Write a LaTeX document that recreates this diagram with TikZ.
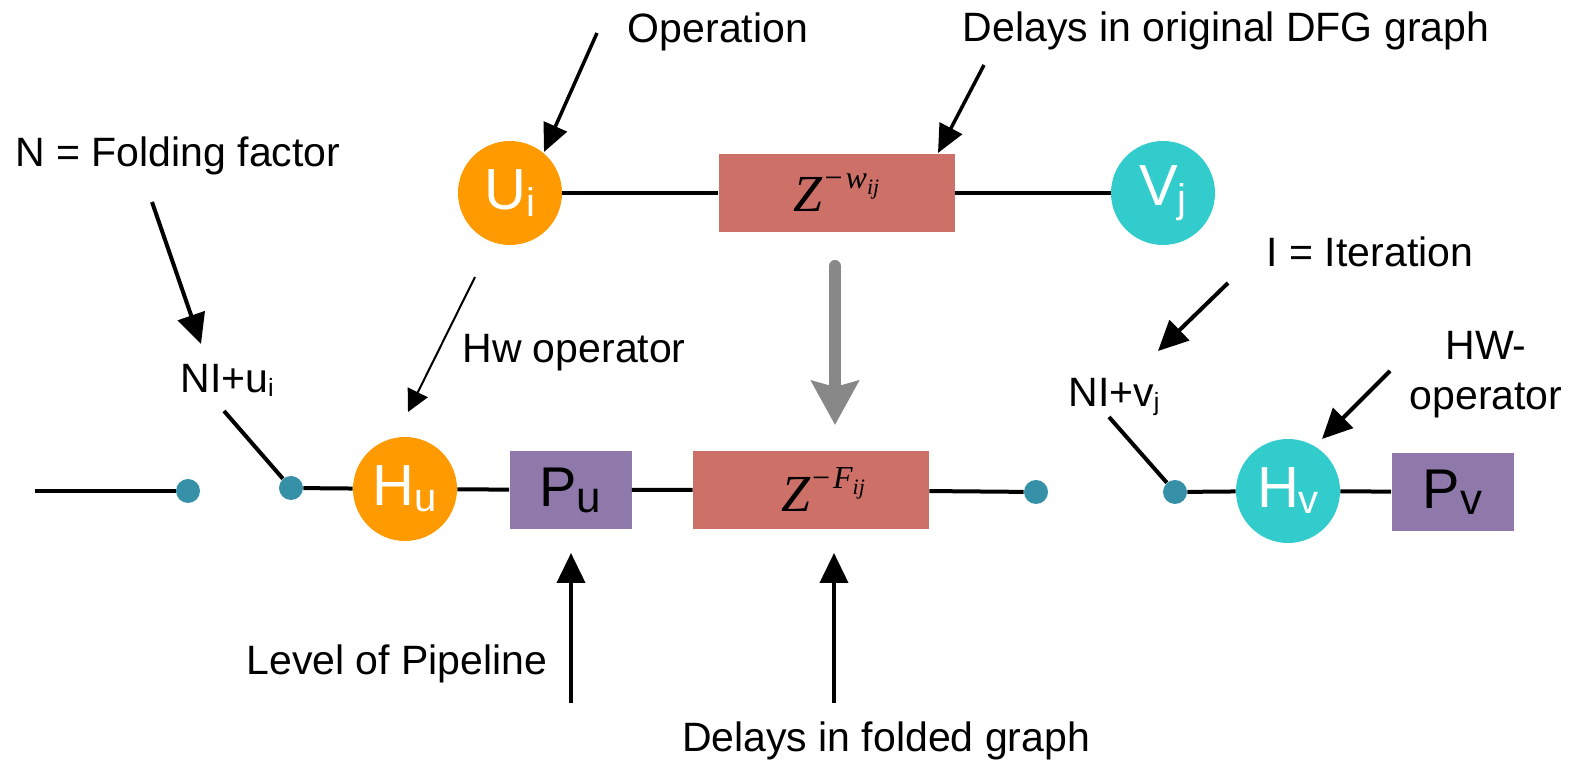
\documentclass[tikz,border=0pt]{standalone}
\usepackage{fontspec}
\setmainfont{Liberation Sans}
\newfontfamily\tnr{Liberation Serif}
\usetikzlibrary{arrows.meta}
\definecolor{orng}{HTML}{FF9A00}
\definecolor{cyn}{HTML}{33CCCC}
\definecolor{rose}{HTML}{CC7068}
\definecolor{purp}{HTML}{8F79AB}
\definecolor{tealdot}{HTML}{3590A8}
\definecolor{grayarr}{HTML}{888888}
\newcommand\lowsub[3]{\raisebox{-#1}{\fontsize{#2}{#2}\selectfont #3}}
\newcommand\zdelay[1]{{\tnr\fontsize{26}{30}\selectfont\itshape Z\raisebox{11.5pt}{\fontsize{16}{18}\selectfont\upshape \kern1pt−\kern1.5pt\itshape #1}}}
\begin{document}
\begin{tikzpicture}[x=0.5pt,y=-0.5pt,
  lbl/.style={font=\fontsize{20.5}{25}\selectfont, inner sep=0},
  opnode/.style={circle, minimum size=52pt, inner sep=0, text=white, font=\fontsize{29}{32}\selectfont},
  delaybox/.style={fill=rose, minimum width=118pt, minimum height=39pt, inner sep=0},
  pipebox/.style={fill=purp, minimum width=61pt, minimum height=39pt, inner sep=0, font=\fontsize{28}{32}\selectfont},
  joint/.style={circle, fill=tealdot, minimum size=12pt, inner sep=0},
  wire/.style={line width=2pt},
  callout/.style={line width=2pt, -{Triangle[length=15pt,width=14pt]}},
  callsmall/.style={line width=1.75pt, -{Triangle[length=14pt,width=12.5pt]}},
  callthin/.style={line width=1pt, -{Triangle[length=11pt,width=11pt]}},
]
\path[use as bounding box] (0,0) rectangle (1570,763);

% top row
\node[opnode, fill=orng] (Ui) at (510,193) {U\lowsub{3.5pt}{20}{i}};
\node[delaybox] (Zw) at (836.5,193) {\zdelay{w\raisebox{-3pt}{\fontsize{11}{12}\selectfont ij}}};
\node[opnode, fill=cyn] (Vj) at (1163,193) {V\lowsub{3.5pt}{20}{j}};
\draw[wire] (Ui) -- (Zw) -- (Vj);

% bottom row
\coordinate (lstart) at (35,491);
\node[joint] (d1) at (188,491) {};
\node[joint] (d2) at (291,488) {};
\node[opnode, fill=orng] (Hu) at (405,489) {H\lowsub{3pt}{20}{u}};
\node[pipebox] (Pu) at (570.5,490) {P\lowsub{3pt}{22}{u}};
\node[delaybox] (Zf) at (811,490) {\hspace*{12pt}\zdelay{F\raisebox{-3pt}{\fontsize{11}{12}\selectfont ij}}};
\node[joint] (d3) at (1036,492) {};
\node[joint] (d4) at (1175,492) {};
\node[opnode, fill=cyn] (Hv) at (1288,491) {H\lowsub{3pt}{20}{v}};
\node[pipebox] (Pv) at (1452.5,492) {P\lowsub{3pt}{22}{v}};
\draw[wire] (lstart) -- (d1);
\draw[wire] (d2) -- (Hu) -- (Pu) -- (Zf) -- (d3);
\draw[wire] (d4) -- (Hv) -- (Pv);

% labels
\node[lbl, anchor=base] (tOp) at (718,43) {Operation};
\node[lbl, anchor=base] (tDFG) at (1226,42) {Delays in original DFG graph};
\node[lbl, anchor=base] (tN) at (178,167) {N = Folding factor};
\node[lbl, anchor=base west] (tHw) at (462,363) {Hw operator};
\node[lbl, anchor=base] (tI) at (1370,267) {I = Iteration};
\node[lbl, anchor=base west] (tNu) at (180,393) {NI+u\lowsub{2pt}{12.5}{i}};
\node[lbl, anchor=base west] (tNv) at (1068,407) {NI+v\lowsub{2pt}{12.5}{j}};
\node[lbl, anchor=base] (tHW1) at (1486,360) {HW-};
\node[lbl, anchor=base] (tHW2) at (1486,410) {operator};
\node[lbl, anchor=base] (tLev) at (397,675) {Level of Pipeline};
\node[lbl, anchor=base] (tFold) at (886,752) {Delays in folded graph};

% leader lines to dots
\coordinate (nu1) at (224,411);
\coordinate (nv1) at (1109,417);
\draw[wire] (nu1) -- (d2);
\draw[wire] (nv1) -- (d4);

% callout arrows
\coordinate (aN1) at (152,202);  \coordinate (aN2) at (201,344);
\coordinate (aO1) at (597,33);   \coordinate (aO2) at (544,152);
\coordinate (aD1) at (984,65);   \coordinate (aD2) at (938,153);
\coordinate (aH1) at (475,277);  \coordinate (aH2) at (408,412);
\coordinate (aI1) at (1228,283); \coordinate (aI2) at (1158,351);
\coordinate (aW1) at (1390,371); \coordinate (aW2) at (1322,439);
\coordinate (aL1) at (571,703);  \coordinate (aL2) at (571,553);
\coordinate (aF1) at (834,703);  \coordinate (aF2) at (834,553);
\coordinate (g1) at (835,266);   \coordinate (g2) at (835,425);

\draw[callout] (aN1) -- (aN2);
\draw[callsmall] (aO1) -- (aO2);
\draw[callsmall] (aD1) -- (aD2);
\draw[callthin] (aH1) -- (aH2);
\draw[callout] (aI1) -- (aI2);
\draw[callout] (aW1) -- (aW2);
\draw[callout] (aL1) -- (aL2);
\draw[callout] (aF1) -- (aF2);
\draw[grayarr, line width=6pt, line cap=round, -{Stealth[length=22pt,width=23.5pt,inset=3pt]}] (g1) -- (g2);
\end{tikzpicture}
\end{document}
